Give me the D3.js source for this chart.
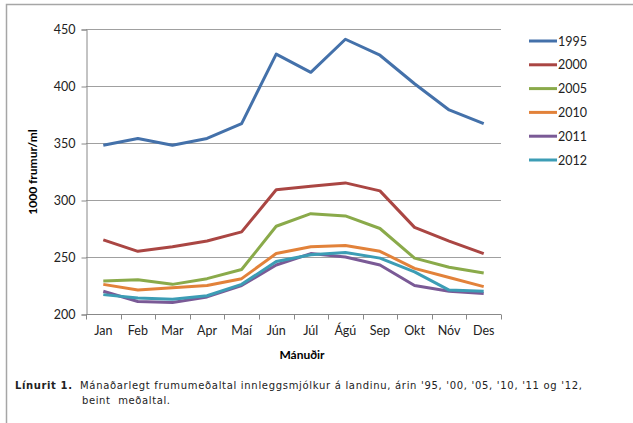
<!DOCTYPE html>
<html>
<head>
<meta charset="utf-8">
<script src="https://cdn.jsdelivr.net/npm/d3@7"></script>
<style>
  body { margin: 0; background: #fff; }
  svg { display: block; }
</style>
</head>
<body>
<svg width="633" height="423"></svg>
<script>
const months = ['Jan', 'Feb', 'Mar', 'Apr', 'Maí', 'Jún', 'Júl', 'Ágú', 'Sep', 'Okt', 'Nóv', 'Des'];
const years = ['1995', '2000', '2005', '2010', '2011', '2012'];
const colors = ['#4471AA', '#AA4643', '#8AAA4A', '#E2823A', '#7A5A96', '#3C9DB5'];
const y1995 = [348, 354, 348, 354, 367, 428, 412, 441, 427, 402, 379, 367];
const y2000 = [265, 255, 259, 264, 272, 309, 312, 315, 308, 276, 264, 253];
const y2005 = [229, 230, 226, 231, 239, 277, 288, 286, 275, 249, 241, 236];
const y2010 = [226, 221, 223, 225, 231, 253, 259, 260, 255, 240, 232, 224];
const y2011 = [220, 211, 210, 215, 225, 243, 253, 250, 243, 225, 220, 218];
const y2012 = [217, 214, 213, 216, 226, 246, 252, 254, 249, 237, 221, 220];
const yTicks = [200, 250, 300, 350, 400, 450];

const series = [y1995, y2000, y2005, y2010, y2011, y2012];

const svg = d3.select('svg');

// outer frame (only top and left edges show)
svg.append('path')
    .attr('d', 'M6.5,423 L6.5,4.5 L633,4.5')
    .attr('fill', 'none').attr('stroke', '#a6a6a6').attr('stroke-width', 1.5);

const x = d3.scaleBand().domain(months).range([86, 501]);
const y = d3.scaleLinear().domain([200, 450]).range([314, 29]);

// gridlines
svg.append('g')
    .selectAll('line')
    .data(yTicks.slice(1))
    .join('line')
    .attr('x1', 86).attr('x2', 501)
    .attr('y1', d => Math.round(y(d)) + 0.5).attr('y2', d => Math.round(y(d)) + 0.5)
    .attr('stroke', '#a0a0a0');

// y axis
const yAxis = svg.append('g')
    .attr('transform', 'translate(86.5,0.5)')
    .call(d3.axisLeft(y).tickValues(yTicks).tickSize(5).tickPadding(6));
yAxis.select('.domain').attr('stroke', '#888');
yAxis.selectAll('.tick line').attr('stroke', '#888');
yAxis.selectAll('text')
    .style('font-family', 'Lato, "Open Sans", sans-serif')
    .style('font-size', '12.5px').attr('fill', '#222');

// x axis with ticks at band boundaries
const xAxis = svg.append('g').attr('transform', 'translate(0,314.5)');
xAxis.append('line').attr('x1', 86).attr('x2', 501).attr('stroke', '#888');
xAxis.selectAll('line.tk')
    .data(months.concat(['']))
    .join('line').attr('class', 'tk')
    .attr('x1', (d, i) => Math.round(86 + i * x.step()) + 0.5)
    .attr('x2', (d, i) => Math.round(86 + i * x.step()) + 0.5)
    .attr('y1', 0).attr('y2', 5).attr('stroke', '#888');
xAxis.selectAll('text')
    .data(months)
    .join('text')
    .attr('x', d => x(d) + x.bandwidth() / 2)
    .attr('y', 20)
    .attr('text-anchor', 'middle')
    .style('font-family', 'Lato, "Open Sans", sans-serif')
    .style('font-size', '12.5px').attr('fill', '#222')
    .text(d => d);

// lines
const line = d3.line()
    .x((d, i) => x(months[i]) + x.bandwidth() / 2)
    .y(d => y(d));

svg.append('g')
    .selectAll('path')
    .data(series)
    .join('path')
    .attr('d', line)
    .attr('fill', 'none')
    .attr('stroke', (d, i) => colors[i])
    .attr('stroke-width', 3)
    .attr('stroke-linejoin', 'round');

// legend
const legend = svg.append('g')
    .selectAll('g')
    .data(years)
    .join('g')
    .attr('transform', (d, i) => `translate(529,${41 + i * 23.8})`);
legend.append('line')
    .attr('x1', 0).attr('x2', 28)
    .attr('stroke', (d, i) => colors[i]).attr('stroke-width', 3);
legend.append('text')
    .attr('x', 29).attr('y', 4.5)
    .style('font-family', 'Lato, "Open Sans", sans-serif')
    .style('font-size', '12.5px').attr('fill', '#222')
    .text(d => d);

// axis titles
svg.append('text')
    .attr('x', 302).attr('y', 359)
    .attr('text-anchor', 'middle')
    .style('font-family', 'Lato, "Open Sans", sans-serif')
    .style('font-size', '12px').style('font-weight', 'bold')
    .text('Mánuðir');

svg.append('text')
    .attr('transform', 'translate(37,172) rotate(-90)')
    .attr('text-anchor', 'middle')
    .style('font-family', 'Lato, "Open Sans", sans-serif')
    .style('font-size', '12px').style('font-weight', 'bold')
    .text('1000 frumur/ml');

// caption
const cap = svg.append('g')
    .style('font-family', '"DejaVu Sans", Verdana, sans-serif')
    .style('font-size', '10px').attr('fill', '#222');
cap.append('text').attr('x', 15).attr('y', 389)
    .attr('textLength', 57).attr('lengthAdjust', 'spacing')
    .style('font-weight', 'bold').text('Línurit 1.');
cap.append('text').attr('x', 80).attr('y', 389)
    .attr('textLength', 502).attr('lengthAdjust', 'spacing')
    .text("Mánaðarlegt frumumeðaltal innleggsmjólkur á landinu, árin '95, '00, '05, '10, '11 og '12,");
cap.append('text').attr('x', 82).attr('y', 404)
    .attr('textLength', 88).attr('lengthAdjust', 'spacing')
    .style('white-space', 'pre')
    .text('beint  meðaltal.');
</script>
</body>
</html>
